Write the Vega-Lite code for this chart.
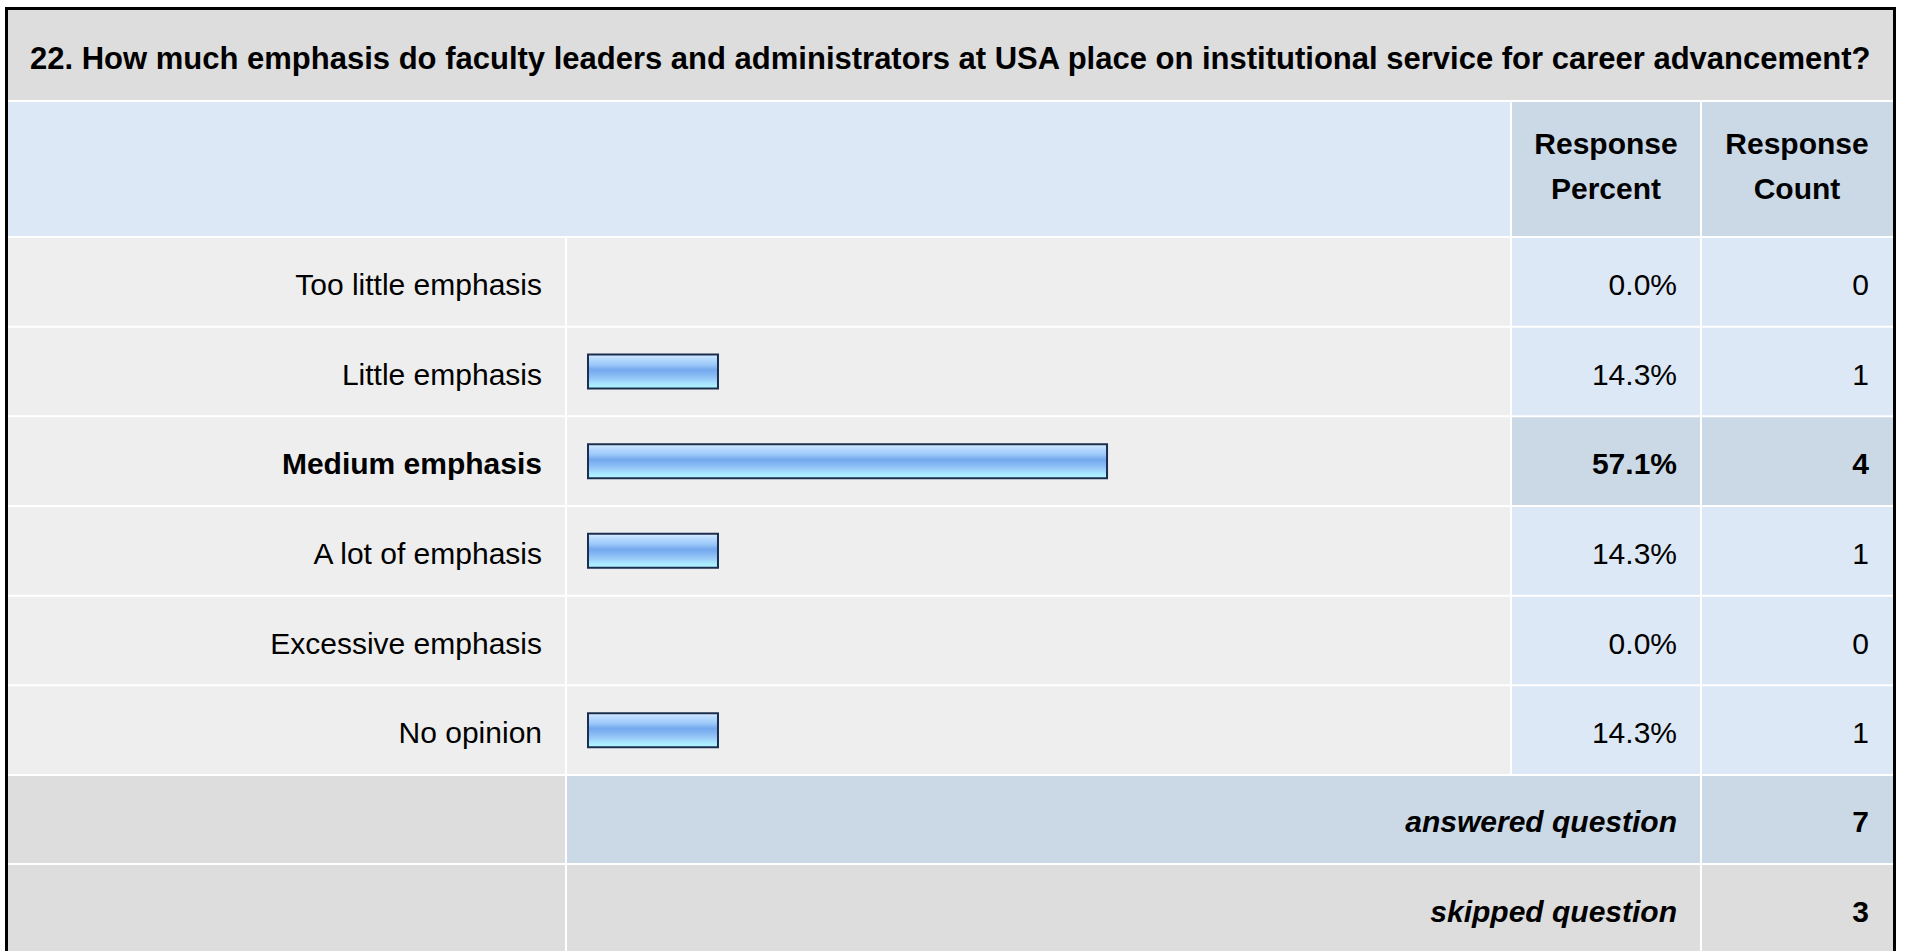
{
  "$schema": "https://vega.github.io/schema/vega-lite/v6.json",
  "background": "#ffffff",
  "padding": {"left": 5, "top": 7, "right": 0, "bottom": 0},
  "spacing": 0,
  "config": {
    "view": {"stroke": null},
    "text": {"font": "Liberation Sans", "fontSize": 30, "color": "#000000"}
  },
  "datasets": {
    "answers": [
      {"answer": "Too little emphasis", "percent": 0.0, "count": 0},
      {"answer": "Little emphasis", "percent": 0.143, "count": 1},
      {"answer": "Medium emphasis", "percent": 0.571, "count": 4},
      {"answer": "A lot of emphasis", "percent": 0.143, "count": 1},
      {"answer": "Excessive emphasis", "percent": 0.0, "count": 0},
      {"answer": "No opinion", "percent": 0.143, "count": 1}
    ],
    "summary": [
      {"summary": "answered question", "count": 7},
      {"summary": "skipped question", "count": 3}
    ]
  },
  "vconcat": [
    {
      "width": 1885,
      "height": 92,
      "data": {"values": [{"question": "22. How much emphasis do faculty leaders and administrators at USA place on institutional service for career advancement?"}]},
      "layer": [
        {"mark": {"type": "rect", "color": "#dddddd"}, "encoding": {"x": {"value": 0}, "x2": {"value": "width"}, "y": {"value": 0}, "y2": {"value": 90}}},
        {"mark": {"type": "text", "align": "left", "baseline": "middle", "fontWeight": "bold", "fontSize": 31}, "encoding": {"text": {"field": "question"}, "x": {"value": 22}, "y": {"value": 50}}},
        {"mark": {"type": "rect", "color": "#000000"}, "encoding": {"x": {"value": -3}, "x2": {"value": 1888}, "y": {"value": -3}, "y2": {"value": 0}}},
        {"mark": {"type": "rect", "color": "#000000"}, "encoding": {"x": {"value": -3}, "x2": {"value": 0}, "y": {"value": -3}, "y2": {"value": "height"}}},
        {"mark": {"type": "rect", "color": "#000000"}, "encoding": {"x": {"value": "width"}, "x2": {"value": 1888}, "y": {"value": -3}, "y2": {"value": "height"}}}
      ]
    },
    {
      "spacing": 2,
      "hconcat": [
        {
          "width": 1502,
          "height": 136,
          "data": {"values": [{}]},
          "layer": [
            {"mark": {"type": "rect", "color": "#dde8f6"}, "encoding": {"x": {"value": 0}, "x2": {"value": "width"}, "y": {"value": 0}, "y2": {"value": 134}}},
            {"mark": {"type": "rect", "color": "#000000"}, "encoding": {"x": {"value": -3}, "x2": {"value": 0}, "y": {"value": 0}, "y2": {"value": "height"}}}
          ]
        },
        {
          "width": 188,
          "height": 136,
          "data": {"values": [{"h": "Response\nPercent"}]},
          "layer": [
            {"mark": {"type": "rect", "color": "#cbd8e6"}, "encoding": {"x": {"value": 0}, "x2": {"value": "width"}, "y": {"value": 0}, "y2": {"value": 134}}},
            {"mark": {"type": "text", "fontWeight": "bold", "align": "center", "baseline": "middle", "lineBreak": "\n", "lineHeight": 45}, "encoding": {"text": {"field": "h"}, "x": {"value": 94}, "y": {"value": 43}}}
          ]
        },
        {
          "width": 191,
          "height": 136,
          "data": {"values": [{"h": "Response\nCount"}]},
          "layer": [
            {"mark": {"type": "rect", "color": "#cbd8e6"}, "encoding": {"x": {"value": 0}, "x2": {"value": "width"}, "y": {"value": 0}, "y2": {"value": 134}}},
            {"mark": {"type": "text", "fontWeight": "bold", "align": "center", "baseline": "middle", "lineBreak": "\n", "lineHeight": 45}, "encoding": {"text": {"field": "h"}, "x": {"value": 95}, "y": {"value": 43}}},
            {"mark": {"type": "rect", "color": "#000000"}, "encoding": {"x": {"value": "width"}, "x2": {"value": 194}, "y": {"value": 0}, "y2": {"value": "height"}}}
          ]
        }
      ]
    },
    {
      "spacing": 2,
      "hconcat": [
        {
          "width": 557,
          "height": 538,
          "layer": [
            {
              "data": {"name": "answers"},
              "transform": [{"joinaggregate": [{"op": "max", "field": "count", "as": "maxCount"}]}],
              "encoding": {"y": {"field": "answer", "type": "nominal", "sort": null, "axis": null, "scale": {"domain": ["Too little emphasis", "Little emphasis", "Medium emphasis", "A lot of emphasis", "Excessive emphasis", "No opinion"], "paddingInner": 0.0223, "paddingOuter": 0.01115, "align": 0}}},
              "layer": [
                {"mark": {"type": "rect", "color": "#eeeeee"}, "encoding": {"x": {"value": 0}, "x2": {"value": "width"}}},
                {"transform": [{"filter": "datum.count != datum.maxCount"}], "mark": {"type": "text", "align": "right", "baseline": "middle", "dx": -23, "dy": 4}, "encoding": {"text": {"field": "answer"}, "x": {"value": "width"}}},
                {"transform": [{"filter": "datum.count == datum.maxCount"}], "mark": {"type": "text", "align": "right", "baseline": "middle", "fontWeight": "bold", "dx": -23, "dy": 4}, "encoding": {"text": {"field": "answer"}, "x": {"value": "width"}}}
              ]
            },
            {
              "data": {"values": [{}]},
              "mark": {"type": "rect", "color": "#000000"},
              "encoding": {"x": {"value": -3}, "x2": {"value": 0}, "y": {"value": 0}, "y2": {"value": "height"}}
            }
          ]
        },
        {
          "width": 943,
          "height": 538,
          "data": {"name": "answers"},
          "encoding": {"y": {"field": "answer", "type": "nominal", "sort": null, "axis": null, "scale": {"domain": ["Too little emphasis", "Little emphasis", "Medium emphasis", "A lot of emphasis", "Excessive emphasis", "No opinion"], "paddingInner": 0.0223, "paddingOuter": 0.01115, "align": 0}}},
          "layer": [
            {"mark": {"type": "rect", "color": "#eeeeee"}, "encoding": {"x": {"value": 0}, "x2": {"value": "width"}}},
            {
              "transform": [{"filter": "datum.count > 0"}],
              "mark": {
                "type": "bar", "size": 34, "stroke": "#1b2e50", "strokeWidth": 2,
                "fill": {"gradient": "linear", "x1": 0, "y1": 0, "x2": 0, "y2": 1, "stops": [
                  {"offset": 0, "color": "#dcedff"},
                  {"offset": 0.12, "color": "#b9dbff"},
                  {"offset": 0.3, "color": "#9cc9f9"},
                  {"offset": 0.45, "color": "#74a9ee"},
                  {"offset": 0.55, "color": "#7eb2f1"},
                  {"offset": 0.72, "color": "#98c9f8"},
                  {"offset": 0.85, "color": "#a6e4fd"},
                  {"offset": 1, "color": "#b2faff"}
                ]}
              },
              "encoding": {"x": {"field": "percent", "type": "quantitative", "axis": null, "scale": {"domain": [0, 1], "range": [21, 930]}}}
            }
          ]
        },
        {
          "width": 188,
          "height": 538,
          "data": {"name": "answers"},
          "transform": [{"joinaggregate": [{"op": "max", "field": "count", "as": "maxCount"}]}],
          "encoding": {"y": {"field": "answer", "type": "nominal", "sort": null, "axis": null, "scale": {"domain": ["Too little emphasis", "Little emphasis", "Medium emphasis", "A lot of emphasis", "Excessive emphasis", "No opinion"], "paddingInner": 0.0223, "paddingOuter": 0.01115, "align": 0}}},
          "layer": [
            {"mark": {"type": "rect"}, "encoding": {"x": {"value": 0}, "x2": {"value": "width"}, "color": {"condition": {"test": "datum.count == datum.maxCount", "value": "#cbd8e6"}, "value": "#dde8f6"}}},
            {"transform": [{"filter": "datum.count != datum.maxCount"}], "mark": {"type": "text", "align": "right", "baseline": "middle", "dx": -23, "dy": 4}, "encoding": {"text": {"field": "percent", "format": ".1%"}, "x": {"value": "width"}}},
            {"transform": [{"filter": "datum.count == datum.maxCount"}], "mark": {"type": "text", "align": "right", "baseline": "middle", "fontWeight": "bold", "dx": -23, "dy": 4}, "encoding": {"text": {"field": "percent", "format": ".1%"}, "x": {"value": "width"}}}
          ]
        },
        {
          "width": 191,
          "height": 538,
          "layer": [
            {
              "data": {"name": "answers"},
              "transform": [{"joinaggregate": [{"op": "max", "field": "count", "as": "maxCount"}]}],
              "encoding": {"y": {"field": "answer", "type": "nominal", "sort": null, "axis": null, "scale": {"domain": ["Too little emphasis", "Little emphasis", "Medium emphasis", "A lot of emphasis", "Excessive emphasis", "No opinion"], "paddingInner": 0.0223, "paddingOuter": 0.01115, "align": 0}}},
              "layer": [
                {"mark": {"type": "rect"}, "encoding": {"x": {"value": 0}, "x2": {"value": "width"}, "color": {"condition": {"test": "datum.count == datum.maxCount", "value": "#cbd8e6"}, "value": "#dde8f6"}}},
                {"transform": [{"filter": "datum.count != datum.maxCount"}], "mark": {"type": "text", "align": "right", "baseline": "middle", "dx": -24, "dy": 4}, "encoding": {"text": {"field": "count"}, "x": {"value": "width"}}},
                {"transform": [{"filter": "datum.count == datum.maxCount"}], "mark": {"type": "text", "align": "right", "baseline": "middle", "fontWeight": "bold", "dx": -24, "dy": 4}, "encoding": {"text": {"field": "count"}, "x": {"value": "width"}}}
              ]
            },
            {
              "data": {"values": [{}]},
              "mark": {"type": "rect", "color": "#000000"},
              "encoding": {"x": {"value": "width"}, "x2": {"value": 194}, "y": {"value": 0}, "y2": {"value": "height"}}
            }
          ]
        }
      ]
    },
    {
      "spacing": 2,
      "hconcat": [
        {
          "width": 557,
          "height": 176,
          "layer": [
            {
              "data": {"name": "summary"},
              "mark": {"type": "rect", "color": "#dddddd"},
              "encoding": {
                "y": {"field": "summary", "type": "nominal", "sort": null, "axis": null, "scale": {"domain": ["answered question", "skipped question"], "paddingInner": 0.0225, "paddingOuter": 0}},
                "x": {"value": 0}, "x2": {"value": "width"}
              }
            },
            {
              "data": {"values": [{}]},
              "mark": {"type": "rect", "color": "#000000"},
              "encoding": {"x": {"value": -3}, "x2": {"value": 0}, "y": {"value": 0}, "y2": {"value": "height"}}
            }
          ]
        },
        {
          "width": 1133,
          "height": 176,
          "data": {"name": "summary"},
          "encoding": {"y": {"field": "summary", "type": "nominal", "sort": null, "axis": null, "scale": {"domain": ["answered question", "skipped question"], "paddingInner": 0.0225, "paddingOuter": 0}}},
          "layer": [
            {"mark": {"type": "rect"}, "encoding": {"x": {"value": 0}, "x2": {"value": "width"}, "color": {"condition": {"test": "datum.summary == 'answered question'", "value": "#cbd8e6"}, "value": "#dddddd"}}},
            {"mark": {"type": "text", "align": "right", "baseline": "middle", "fontWeight": "bold", "fontStyle": "italic", "dx": -23, "dy": 4}, "encoding": {"text": {"field": "summary"}, "x": {"value": "width"}}}
          ]
        },
        {
          "width": 191,
          "height": 176,
          "layer": [
            {
              "data": {"name": "summary"},
              "encoding": {"y": {"field": "summary", "type": "nominal", "sort": null, "axis": null, "scale": {"domain": ["answered question", "skipped question"], "paddingInner": 0.0225, "paddingOuter": 0}}},
              "layer": [
                {"mark": {"type": "rect"}, "encoding": {"x": {"value": 0}, "x2": {"value": "width"}, "color": {"condition": {"test": "datum.summary == 'answered question'", "value": "#cbd8e6"}, "value": "#dddddd"}}},
                {"mark": {"type": "text", "align": "right", "baseline": "middle", "fontWeight": "bold", "dx": -24, "dy": 4}, "encoding": {"text": {"field": "count"}, "x": {"value": "width"}}}
              ]
            },
            {
              "data": {"values": [{}]},
              "mark": {"type": "rect", "color": "#000000"},
              "encoding": {"x": {"value": "width"}, "x2": {"value": 194}, "y": {"value": 0}, "y2": {"value": "height"}}
            }
          ]
        }
      ]
    }
  ]
}
